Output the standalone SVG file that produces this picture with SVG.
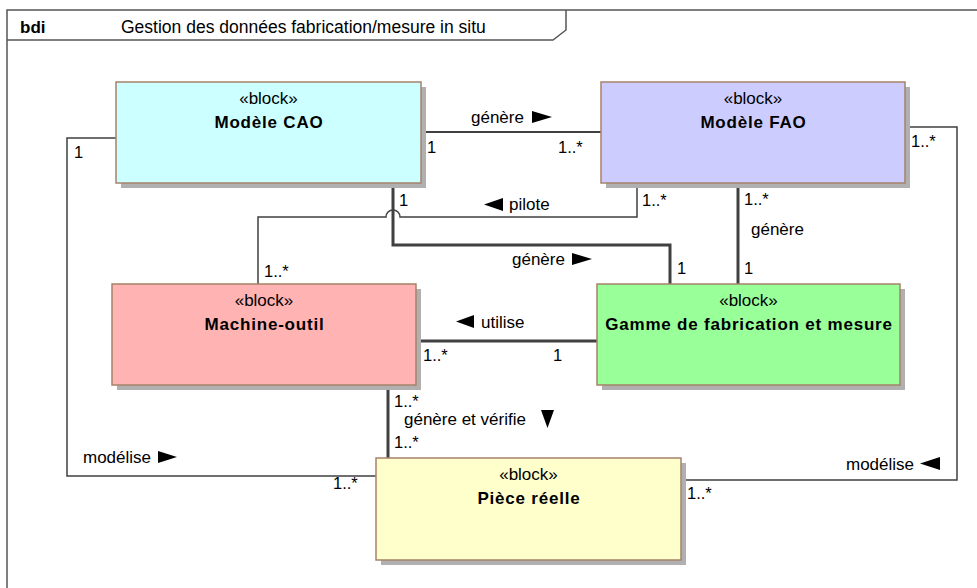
<svg xmlns="http://www.w3.org/2000/svg" width="977" height="588" viewBox="0 0 977 588">
<style>
.t{font-family:"Liberation Sans",Arial,sans-serif;font-size:17px;fill:#000}
.q{font-size:16.5px}
.n{font-weight:bold;letter-spacing:0.8px}
.m{text-anchor:middle}
.blk{stroke:#A5826A;stroke-width:1.5}
.sh{fill:#B0B0B0}
.thin{fill:none;stroke:#404040;stroke-width:1.5}
.med{fill:none;stroke:#404040;stroke-width:2}
.thick{fill:none;stroke:#404040;stroke-width:3}
.frame{fill:none;stroke:#555;stroke-width:1.5}
.tri{fill:#000}
</style>
<rect width="977" height="588" fill="#fff"/>
<g id="frame">
<path class="frame" d="M7 588 V10 H977 M7 40 H553 L566 30 V10"/>
<text class="t" x="20" y="33" font-weight="bold">bdi</text>
<text class="t" x="121" y="33" style="font-size:17.5px">Gestion des données fabrication/mesure in situ</text>
</g>
<g id="connectors">
<path class="med" d="M421 132 H601"/>
<path class="thick" d="M393 183 V245 H670 V284"/>
<path class="thick" d="M738 183 V284"/>
<path class="thick" d="M416 341 H597"/>
<path class="thick" d="M388 385 V458"/>
<path class="thin" d="M637 183 V217 H400 A7 7 0 0 0 386 217 H258 V284"/>
<path class="thin" d="M116 138 H67 V476 H376"/>
<path class="thin" d="M905 127 H957 V480 H681"/>
<text class="t" x="471" y="123">génère</text>
<polygon class="tri" points="532,111 552,117 532,123"/>
<text class="t q" x="427" y="153">1</text>
<text class="t q" x="558" y="153">1..*</text>
<text class="t q" x="399" y="206">1</text>
<text class="t q" x="642" y="206">1..*</text>
<text class="t" x="509" y="210">pilote</text>
<polygon class="tri" points="503,198 484,204.5 503,211"/>
<text class="t q" x="264" y="277">1..*</text>
<text class="t" x="512" y="265">génère</text>
<polygon class="tri" points="572,253 592,259 572,265"/>
<text class="t q" x="677" y="274">1</text>
<text class="t q" x="744" y="205">1..*</text>
<text class="t" x="751" y="235">génère</text>
<text class="t q" x="744" y="274">1</text>
<polygon class="tri" points="474,315 456,321.5 474,328"/>
<text class="t" x="481" y="328">utilise</text>
<text class="t q" x="423" y="361">1..*</text>
<text class="t q" x="553" y="361">1</text>
<text class="t q" x="394" y="407">1..*</text>
<text class="t" x="404" y="425">génère et vérifie</text>
<polygon class="tri" points="541,410 554,410 547.5,428"/>
<text class="t q" x="394" y="448">1..*</text>
<text class="t" x="83" y="463">modélise</text>
<polygon class="tri" points="158,451 177,457 158,463"/>
<text class="t q" x="74" y="158">1</text>
<text class="t q" x="333" y="489">1..*</text>
<text class="t" x="846" y="470">modélise</text>
<polygon class="tri" points="940,457 920,463.5 940,470"/>
<text class="t q" x="911" y="147">1..*</text>
<text class="t q" x="687" y="499">1..*</text>
</g>
<g id="cao">
<rect class="sh" x="121" y="87" width="305" height="101"/>
<rect class="blk" x="116" y="82" width="305" height="101" fill="#CCFFFF"/>
<text class="t m" x="268.5" y="104">«block»</text>
<text class="t m n" x="269" y="128">Modèle CAO</text>
</g>
<g id="fao">
<rect class="sh" x="606" y="87" width="304" height="101"/>
<rect class="blk" x="601" y="82" width="304" height="101" fill="#CCCCFF"/>
<text class="t m" x="753" y="104">«block»</text>
<text class="t m n" x="753.5" y="128">Modèle FAO</text>
</g>
<g id="machine">
<rect class="sh" x="117" y="289" width="304" height="101"/>
<rect class="blk" x="112" y="284" width="304" height="101" fill="#FFB3B3"/>
<text class="t m" x="264" y="306">«block»</text>
<text class="t m n" x="264.5" y="330">Machine-outil</text>
</g>
<g id="gamme">
<rect class="sh" x="602" y="289" width="303" height="101"/>
<rect class="blk" x="597" y="284" width="303" height="101" fill="#99FF99"/>
<text class="t m" x="748.5" y="306">«block»</text>
<text class="t m n" x="749" y="330">Gamme de fabrication et mesure</text>
</g>
<g id="piece">
<rect class="sh" x="381" y="463" width="305" height="102"/>
<rect class="blk" x="376" y="458" width="305" height="102" fill="#FFFFCC"/>
<text class="t m" x="528.5" y="480">«block»</text>
<text class="t m n" x="529" y="504">Pièce réelle</text>
</g>
</svg>
